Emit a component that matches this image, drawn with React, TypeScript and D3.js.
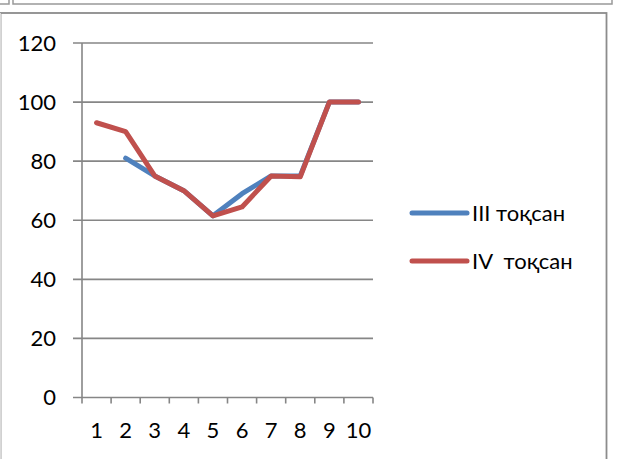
import React from "react";
import * as d3 from "d3";

const categories = ["1", "2", "3", "4", "5", "6", "7", "8", "9", "10"];
const seriesIII: (number | null)[] = [null, 81, 75, 70, 61.5, 69, 75, 75, 100, 100];
const seriesIV: (number | null)[] = [93, 90, 75, 70, 61.5, 64.5, 75, 74.7, 100, 100];
const yTicks = [0, 20, 40, 60, 80, 100, 120];
const legendLabels = ["III тоқсан", "IV  тоқсан"];
const colors = ["#4F81BD", "#C0504D"];

export default function App() {
  const W = 629, H = 459;
  const x = d3.scaleBand<string>().domain(categories).range([82, 373]);
  const y = d3.scaleLinear().domain([0, 120]).range([397.5, 43]);
  const line = d3
    .line<number | null>()
    .defined((d) => d !== null)
    .x((_, i) => (x(categories[i]) as number) + x.bandwidth() / 2)
    .y((d) => y(d as number));
  const font = "Lato, 'Open Sans', sans-serif";
  const grid = "#868686";
  const series = [seriesIII, seriesIV];
  return (
    <svg
      width={W}
      height={H}
      style={{ position: "fixed", left: 0, top: 0, background: "#fff" }}
    >
      {/* top artifacts */}
      <path d="M0,4 H9 V0" fill="none" stroke="#999" strokeWidth={1.5} />
      <rect x={13} y={-2} width={599} height={6} fill="none" stroke="#999" strokeWidth={1.5} />
      {/* chart border */}
      <rect x={0.5} y={13} width={606} height={460} fill="#fff" stroke="#8c8c8c" strokeWidth={1.8} />
      <line x1={0.5} y1={13} x2={0.5} y2={H} stroke="#d9d9d9" strokeWidth={1} />
      {/* gridlines */}
      {yTicks.map((t) => (
        <line key={t} x1={73} x2={373} y1={y(t)} y2={y(t)} stroke={grid} strokeWidth={1.6} />
      ))}
      {/* y axis */}
      <line x1={82} x2={82} y1={y(120)} y2={y(0)} stroke={grid} strokeWidth={1.6} />
      {/* x ticks */}
      {categories.map((c) => (
        <line key={c} x1={x(c)} x2={x(c)} y1={y(0)} y2={y(0) + 6} stroke={grid} strokeWidth={1.6} />
      ))}
      <line x1={373} x2={373} y1={y(0)} y2={y(0) + 6} stroke={grid} strokeWidth={1.6} />
      {/* y labels */}
      {yTicks.map((t) => (
        <text key={t} x={56} y={y(t)} dy="0.36em" textAnchor="end" fontFamily={font} fontSize={22} fill="#000">
          {t}
        </text>
      ))}
      {/* x labels */}
      {categories.map((c) => (
        <text
          key={c}
          x={(x(c) as number) + x.bandwidth() / 2}
          y={430}
          dy="0.36em"
          textAnchor="middle"
          fontFamily={font}
          fontSize={22}
          fill="#000"
        >
          {c}
        </text>
      ))}
      {/* lines */}
      {series.map((s, i) => (
        <path
          key={i}
          d={line(s) as string}
          fill="none"
          stroke={colors[i]}
          strokeWidth={5}
          strokeLinejoin="round"
          strokeLinecap="round"
        />
      ))}
      {/* legend */}
      {legendLabels.map((l, i) => (
        <g key={l} transform={`translate(0, ${213 + i * 48})`}>
          <line x1={412} x2={467} y1={0} y2={0} stroke={colors[i]} strokeWidth={5} strokeLinecap="round" />
          <text x={472} y={0} dy="0.36em" fontFamily={font} fontSize={22} fill="#000" style={{ whiteSpace: "pre" }}>
            {l}
          </text>
        </g>
      ))}
    </svg>
  );
}
